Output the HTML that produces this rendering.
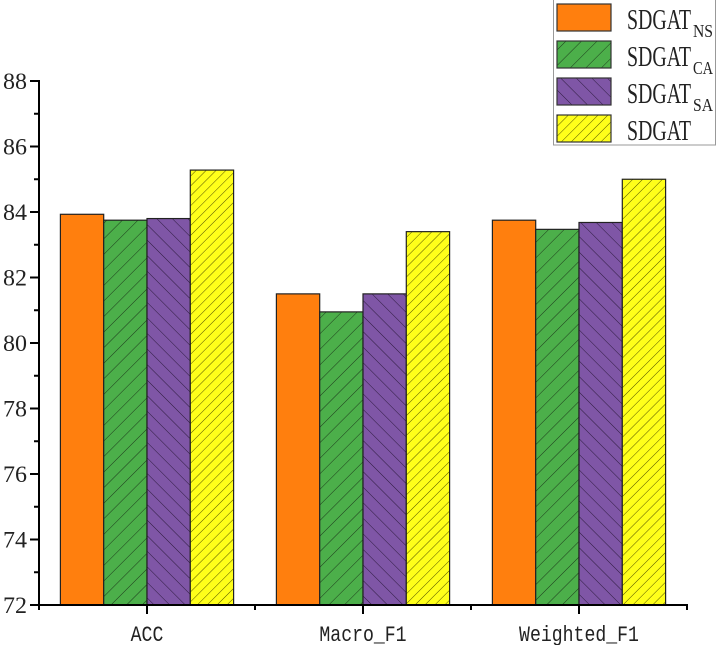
<!DOCTYPE html>
<html><head><meta charset="utf-8"><style>
html,body{margin:0;padding:0;background:#fff;}
svg{display:block;}
</style></head><body>
<svg id="chart" width="717" height="645" viewBox="0 0 717 645" xmlns="http://www.w3.org/2000/svg">
<defs>
<pattern id="hGreen" patternUnits="userSpaceOnUse" width="11" height="11" patternTransform="rotate(45)">
<rect width="11" height="11" fill="#4caf4a"/><line x1="0" y1="0" x2="0" y2="11" stroke="#1d3a1c" stroke-width="1"/></pattern>
<pattern id="hPurple" patternUnits="userSpaceOnUse" width="11" height="11" patternTransform="rotate(-45)">
<rect width="11" height="11" fill="#7f56a6"/><line x1="0" y1="0" x2="0" y2="11" stroke="#2c1a3d" stroke-width="1"/></pattern>
<pattern id="hYellow" patternUnits="userSpaceOnUse" width="7" height="7" patternTransform="rotate(45)">
<rect width="7" height="7" fill="#ffff1a"/><line x1="0" y1="0" x2="0" y2="7" stroke="#555500" stroke-width="1"/></pattern>
</defs>
<g id="bars"></g>
<g id="axes"></g>
<g id="legend"></g>
</svg>
<script>
const categories = ["ACC", "Macro_F1", "Weighted_F1"];
const seriesNames = ["NS", "CA", "SA", ""];
const sNS = [83.93, 81.5, 83.75];
const sCA = [83.75, 80.95, 83.47];
const sSA = [83.8, 81.5, 83.68];
const sFull = [85.28, 83.4, 85.0];
const yTicks = [72, 74, 76, 78, 80, 82, 84, 86, 88];

const NS = "http://www.w3.org/2000/svg";
const fills = ["#ff7f0e", "url(#hGreen)", "url(#hPurple)", "url(#hYellow)"];
const series = [sNS, sCA, sSA, sFull];
const x0 = 39, xStep = 216, catStart = 147;
const yBase = 605, yPer = 32.75, yMin = 72;
function yS(v){ return yBase - (v - yMin) * yPer; }
function xC(i){ return catStart + i * xStep; }
const barW = 43.3;
function mk(tag, attrs, parent){ const e = document.createElementNS(NS, tag); for (const k in attrs) e.setAttribute(k, attrs[k]); parent.appendChild(e); return e; }

const gb = document.getElementById('bars');
series.forEach((s, si) => {
  s.forEach((v, ci) => {
    const x = xC(ci) - 2 * barW + si * barW;
    const r = mk('rect', {x: x, y: yS(v), width: barW, height: yBase - yS(v), fill: fills[si], stroke: '#222', 'stroke-width': 1.2}, gb);
    
    
  });
});

const ga = document.getElementById('axes');
const yAxis = mk('line', {x1: x0, y1: yS(88) - 1, x2: x0, y2: yBase + 1, stroke: '#000', 'stroke-width': 2}, ga);


const xAxis = mk('line', {x1: x0 - 1, y1: yBase, x2: 688, y2: yBase, stroke: '#000', 'stroke-width': 2}, ga);


mk('line', {x1: 687, y1: yBase, x2: 687, y2: yBase + 5, stroke: '#000', 'stroke-width': 2}, ga);
yTicks.forEach((t, i) => {
  const y = yS(t);
  mk('line', {x1: x0 - 9, y1: y, x2: x0, y2: y, stroke: '#000', 'stroke-width': 2}, ga);
  if (i < yTicks.length - 1) mk('line', {x1: x0 - 5, y1: yS(t + 1), x2: x0, y2: yS(t + 1), stroke: '#000', 'stroke-width': 2}, ga);
  const tx = mk('text', {x: x0 - 12, y: y + 8, 'text-anchor': 'end', 'font-family': 'Liberation Serif, serif', 'font-size': 23, fill: '#222', textLength: 24, lengthAdjust: 'spacingAndGlyphs'}, ga);
  tx.textContent = t;
  
  
});
categories.forEach((c, i) => {
  const x = xC(i);
  mk('line', {x1: x, y1: yBase, x2: x, y2: yBase + 9, stroke: '#000', 'stroke-width': 2}, ga);
  mk('line', {x1: x + xStep / 2, y1: yBase, x2: x + xStep / 2, y2: yBase + 5, stroke: '#000', 'stroke-width': 2}, ga);
  const tx = mk('text', {x: x, y: 641, 'text-anchor': 'middle', 'font-family': 'Liberation Mono, monospace', 'font-size': 22, fill: '#222', textLength: c.length * 10.9, lengthAdjust: 'spacingAndGlyphs'}, ga);
  tx.textContent = c;
  
  
});
mk('line', {x1: catStart - xStep / 2, y1: yBase, x2: catStart - xStep / 2, y2: yBase + 5, stroke: '#000', 'stroke-width': 2}, ga);

const gl = document.getElementById('legend');
const box = mk('rect', {x: 553.5, y: -1, width: 162, height: 146, fill: '#fff', stroke: '#999', 'stroke-width': 1}, gl);


seriesNames.forEach((n, i) => {
  const y = 4 + i * 37;
  const sw = mk('rect', {x: 557, y: y, width: 54, height: 27, fill: fills[i], stroke: '#333', 'stroke-width': 1.2}, gl);
  
  
  const tx = mk('text', {x: 627, y: y + 25, 'font-family': 'Liberation Serif, serif', 'font-size': 28, fill: '#222', textLength: 64, lengthAdjust: 'spacingAndGlyphs'}, gl);
  tx.textContent = 'SDGAT';
  
  
  if (n) {
    const sub = mk('text', {x: 693, y: y + 33, 'font-family': 'Liberation Serif, serif', 'font-size': 18, fill: '#222', textLength: 20, lengthAdjust: 'spacingAndGlyphs'}, gl);
    sub.textContent = n;
    
    
  }
});
</script>
</body></html>
